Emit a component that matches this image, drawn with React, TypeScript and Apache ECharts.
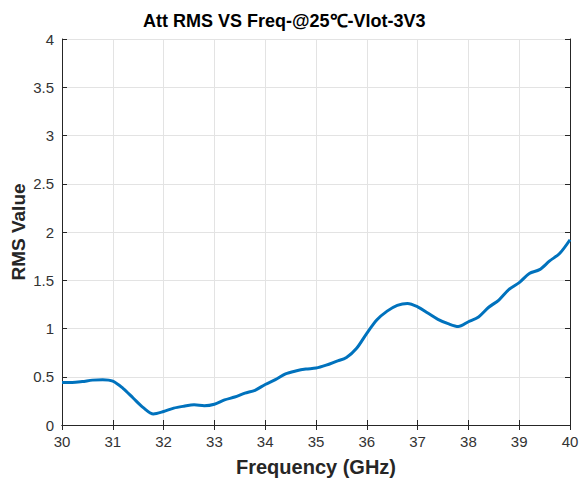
import React, { useEffect, useRef } from "react";
import * as echarts from "echarts";

const freqGHz = [30, 30.2, 30.4, 30.6, 30.8, 31, 31.2, 31.4, 31.6, 31.8, 32, 32.2, 32.4, 32.6, 32.8, 33, 33.2, 33.4, 33.6, 33.8, 34, 34.2, 34.4, 34.6, 34.8, 35, 35.2, 35.4, 35.6, 35.8, 36, 36.2, 36.4, 36.6, 36.8, 37, 37.2, 37.4, 37.6, 37.8, 38, 38.2, 38.4, 38.6, 38.8, 39, 39.2, 39.4, 39.6, 39.8, 40];
const rmsValue = [0.44, 0.44, 0.45, 0.465, 0.47, 0.455, 0.38, 0.28, 0.18, 0.115, 0.14, 0.175, 0.195, 0.21, 0.2, 0.215, 0.26, 0.29, 0.33, 0.36, 0.42, 0.47, 0.53, 0.56, 0.58, 0.59, 0.62, 0.66, 0.7, 0.795, 0.95, 1.09, 1.18, 1.24, 1.26, 1.225, 1.16, 1.095, 1.05, 1.02, 1.07, 1.12, 1.22, 1.295, 1.405, 1.475, 1.57, 1.61, 1.7, 1.78, 1.92];

const titleText = "Att RMS VS Freq-@25℃-Vlot-3V3";
const xName = "Frequency (GHz)";
const yName = "RMS Value";

const FONT = "'Liberation Sans', Arial, sans-serif";
const AXIS_COLOR = "#262626";
const GRID_COLOR = "#e3e3e3";

export default function App() {
  const ref = useRef<HTMLDivElement>(null);
  useEffect(() => {
    if (!ref.current) return;
    const chart = echarts.init(ref.current, null, { renderer: "svg" });
    const axisLine = { show: true, lineStyle: { color: AXIS_COLOR, width: 1 } };
    const tick = { show: true, inside: true, length: 5, lineStyle: { color: AXIS_COLOR } };
    chart.setOption({
      animation: false,
      backgroundColor: "#ffffff",
      title: {
        text: titleText,
        left: 143,
        top: 12,
        padding: 0,
        textStyle: { fontFamily: FONT, fontSize: 18, fontWeight: "bold", color: "#000" },
      },
      grid: { left: 62, top: 39, right: 9, bottom: 55, containLabel: false, outerBoundsMode: "none" },
      xAxis: [
        {
          type: "value",
          min: 30,
          max: 40,
          interval: 1,
          name: xName,
          nameLocation: "middle",
          nameGap: 32,
          nameMoveOverlap: false,
          nameTextStyle: { fontFamily: FONT, fontSize: 20, fontWeight: "bold", color: "#262626" },
          axisLine,
          axisTick: tick,
          axisLabel: { fontFamily: FONT, fontSize: 15, color: "#333", margin: 9 },
          splitLine: { show: true, lineStyle: { color: GRID_COLOR, width: 1 } },
        },
        {
          type: "value",
          position: "top",
          min: 30,
          max: 40,
          interval: 1,
          axisLine,
          axisTick: tick,
          axisLabel: { show: false },
          splitLine: { show: false },
        },
      ],
      yAxis: [
        {
          type: "value",
          min: 0,
          max: 4,
          interval: 0.5,
          name: yName,
          nameLocation: "middle",
          nameGap: 34,
          nameMoveOverlap: false,
          nameTextStyle: { fontFamily: FONT, fontSize: 19, fontWeight: "bold", color: "#262626" },
          axisLine,
          axisTick: tick,
          axisLabel: { fontFamily: FONT, fontSize: 15, color: "#333", margin: 8 },
          splitLine: { show: true, lineStyle: { color: GRID_COLOR, width: 1 } },
        },
        {
          type: "value",
          position: "right",
          min: 0,
          max: 4,
          interval: 0.5,
          axisLine,
          axisTick: tick,
          axisLabel: { show: false },
          splitLine: { show: false },
        },
      ],
      series: [
        {
          type: "line",
          data: freqGHz.map((f, i) => [f, rmsValue[i]]),
          showSymbol: false,
          smooth: 0.3,
          lineStyle: { color: "#0072BD", width: 3 },
          itemStyle: { color: "#0072BD" },
        },
      ],
    });
    return () => chart.dispose();
  }, []);
  return (
    <div
      ref={ref}
      style={{ position: "fixed", left: 0, top: 0, width: 579, height: 480 }}
    />
  );
}
